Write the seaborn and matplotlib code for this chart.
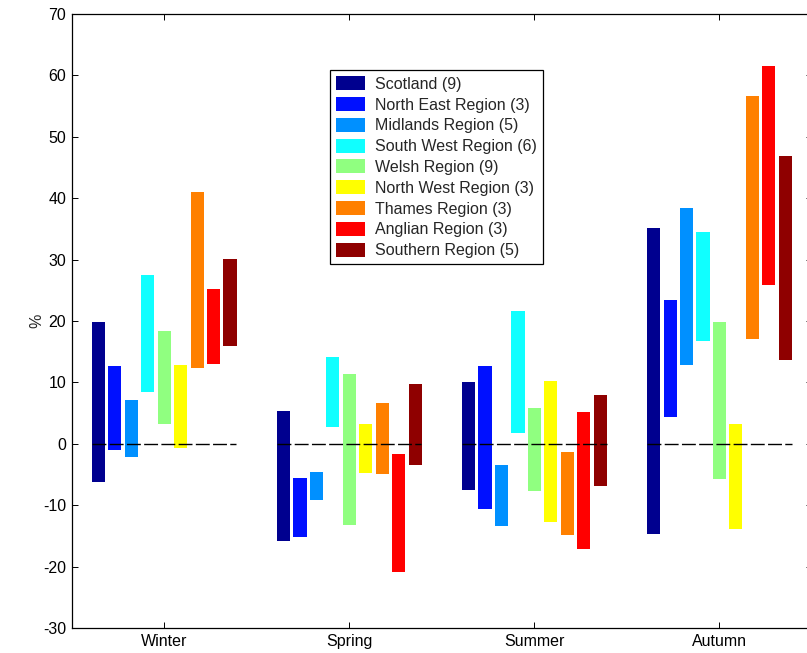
import matplotlib
matplotlib.use("Agg")
import matplotlib.pyplot as plt
import seaborn as sns
import pandas as pd

# seasons and regions
seasons = ["Winter", "Spring", "Summer", "Autumn"]
regions = ["Scotland (9)", "North East Region (3)", "Midlands Region (5)",
           "South West Region (6)", "Welsh Region (9)", "North West Region (3)",
           "Thames Region (3)", "Anglian Region (3)", "Southern Region (5)"]
colours = ["#00008F", "#0010FF", "#0090FF", "#10FFFF", "#90FF80",
           "#FFFF00", "#FF8000", "#FF0000", "#8F0000"]

# range of change (%) per region, one value per season
low = {
    "Scotland (9)":          [-6.3, -15.9, -7.6, -14.7],
    "North East Region (3)": [-1.0, -15.2, -10.7, 4.3],
    "Midlands Region (5)":   [-2.2, -9.2, -13.4, 12.9],
    "South West Region (6)": [8.4, 2.8, 1.7, 16.7],
    "Welsh Region (9)":      [3.3, -13.3, -7.7, -5.8],
    "North West Region (3)": [-0.7, -4.8, -12.8, -13.8],
    "Thames Region (3)":     [12.4, -5.0, -14.9, 17.1],
    "Anglian Region (3)":    [13.0, -20.9, -17.2, 25.9],
    "Southern Region (5)":   [16.0, -3.5, -6.9, 13.7],
}
high = {
    "Scotland (9)":          [19.8, 5.4, 10.0, 35.1],
    "North East Region (3)": [12.6, -5.5, 12.6, 23.4],
    "Midlands Region (5)":   [7.2, -4.6, -3.5, 38.4],
    "South West Region (6)": [27.5, 14.2, 21.6, 34.5],
    "Welsh Region (9)":      [18.3, 11.3, 5.9, 19.9],
    "North West Region (3)": [12.8, 3.3, 10.2, 3.3],
    "Thames Region (3)":     [41.0, 6.6, -1.4, 56.6],
    "Anglian Region (3)":    [25.2, -1.6, 5.1, 61.5],
    "Southern Region (5)":   [30.1, 9.8, 7.9, 46.9],
}

rows = []
for r in regions:
    for i, s in enumerate(seasons):
        rows.append({"season": s, "region": r, "low": low[r][i],
                     "span": high[r][i] - low[r][i]})
df = pd.DataFrame(rows)

sns.set_theme(style="ticks")
plt.rcParams["font.family"] = ["Liberation Sans", "DejaVu Sans"]
plt.rcParams["axes.unicode_minus"] = False
plt.rcParams["xtick.direction"] = "in"
plt.rcParams["ytick.direction"] = "in"

fig = plt.figure(figsize=(8.07, 6.53), dpi=100)
ax = fig.add_axes([0.0888, 0.0383, 0.9174, 0.9403])

sns.barplot(data=df, x="season", y="span", hue="region", order=seasons,
            hue_order=regions, palette=colours, gap=0.2, width=0.8,
            saturation=1, linewidth=0, ax=ax, errorbar=None)

# move each bar up/down so it floats between low and high
for r, cont in zip(regions, ax.containers):
    for i, bar in enumerate(cont):
        bar.set_y(low[r][i])

# dashed zero line across each season group
for i in range(len(seasons)):
    ax.plot([i - 0.39, i + 0.39], [0, 0], color="black", lw=1,
            dashes=(10, 2.4), zorder=5)

ax.set_xlim(-0.5, 3.5)
ax.set_ylim(-30, 70)
ax.set_yticks(range(-30, 71, 10))
ax.set_xlabel("")
ax.set_ylabel("%", fontsize=11.5, labelpad=-1)
ax.tick_params(axis="both", labelsize=11.5, length=4.5, width=0.7,
               top=True, right=True, pad=4, colors="black")
for sp in ax.spines.values():
    sp.set_visible(True)
    sp.set_color("black")
    sp.set_linewidth(0.9)

handles, labels = ax.get_legend_handles_labels()
ax.legend(handles, labels, loc="upper left", bbox_to_anchor=(0.349, 0.909),
          borderaxespad=0, fontsize=11.5, frameon=True, fancybox=False,
          edgecolor="black", framealpha=1, handlelength=1.8,
          handleheight=0.98, labelspacing=0.33, handletextpad=0.6,
          borderpad=0.4)
ax.get_legend().get_frame().set_linewidth(0.9)

fig.savefig("out.png", dpi=100)
